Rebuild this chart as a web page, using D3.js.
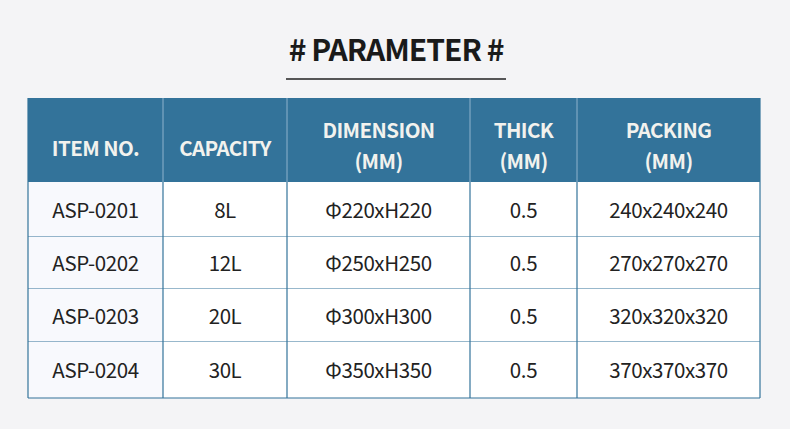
<!DOCTYPE html><html><head><meta charset="utf-8">
<script src="https://cdn.jsdelivr.net/npm/d3@7"></script>
<style>body{margin:0;background:#f4f4f6}</style></head><body>
<script>
const headers=[["ITEM NO."],["CAPACITY"],["DIMENSION","(MM)"],["THICK","(MM)"],["PACKING","(MM)"]];
const items=["ASP-0201","ASP-0202","ASP-0203","ASP-0204"];
const capacity=["8L","12L","20L","30L"];
const dimension=["Φ220xH220","Φ250xH250","Φ300xH300","Φ350xH350"];
const thick=["0.5","0.5","0.5","0.5"];
const packing=["240x240x240","270x270x270","320x320x320","370x370x370"];
const colEdges=[28,163,287,470,577,760];
const rowEdges=[182,237,289,342,398];
const W=790,H=429,blue="#33739a",font="'Noto Sans CJK SC','Noto Sans', sans-serif";
const svg=d3.select("body").append("svg").attr("width",W).attr("height",H);
svg.append("rect").attr("width",W).attr("height",H).attr("fill","#f4f4f6");
svg.append("text").attr("x",396).attr("y",61).attr("text-anchor","middle").attr("font-family",font)
 .attr("font-weight",700).attr("font-size",30).attr("letter-spacing",-1).attr("fill","#1a1a1a").text("# PARAMETER #");
svg.append("line").attr("x1",286).attr("x2",506).attr("y1",79).attr("y2",79).attr("stroke","#222").attr("stroke-width",1.5);
const rows=items.map((d,i)=>[d,capacity[i],dimension[i],thick[i],packing[i]]);
svg.append("rect").attr("x",28).attr("y",98).attr("width",732).attr("height",84).attr("fill",blue);
headers.forEach((h,c)=>{const cx=(colEdges[c]+colEdges[c+1])/2;
 const ys=h.length==1?[156]:[138,169];
 h.forEach((t,k)=>svg.append("text").attr("x",cx).attr("y",ys[k]).attr("text-anchor","middle").attr("font-family",font)
  .attr("font-weight",700).attr("font-size",20.5).attr("fill","#f2f2ee").attr("letter-spacing",-0.6).text(t));});
rows.forEach((r,i)=>{
 const y0=rowEdges[i],y1=rowEdges[i+1];
 r.forEach((t,c)=>{
  svg.append("rect").attr("x",colEdges[c]).attr("y",y0).attr("width",colEdges[c+1]-colEdges[c]).attr("height",y1-y0).attr("fill",c==0?"#f8f9fd":"#fff");
  svg.append("text").attr("x",(colEdges[c]+colEdges[c+1])/2).attr("y",(y0+y1)/2+8).attr("text-anchor","middle")
   .attr("font-family",font).attr("font-size",20.5).attr("letter-spacing",-0.4).attr("fill","#222").text(t);});
 svg.append("line").attr("x1",28).attr("x2",760).attr("y1",y1).attr("y2",y1).attr("stroke",blue).attr("stroke-width",1.2);
});
colEdges.forEach((x,i)=>svg.append("line").attr("x1",x).attr("x2",x).attr("y1",98).attr("y2",398)
 .attr("stroke",blue).attr("stroke-width",1.2));
colEdges.slice(1,5).forEach(x=>svg.append("line").attr("x1",x).attr("x2",x).attr("y1",98).attr("y2",182).attr("stroke","#8fb3cc").attr("stroke-width",1));
</script></body></html>
